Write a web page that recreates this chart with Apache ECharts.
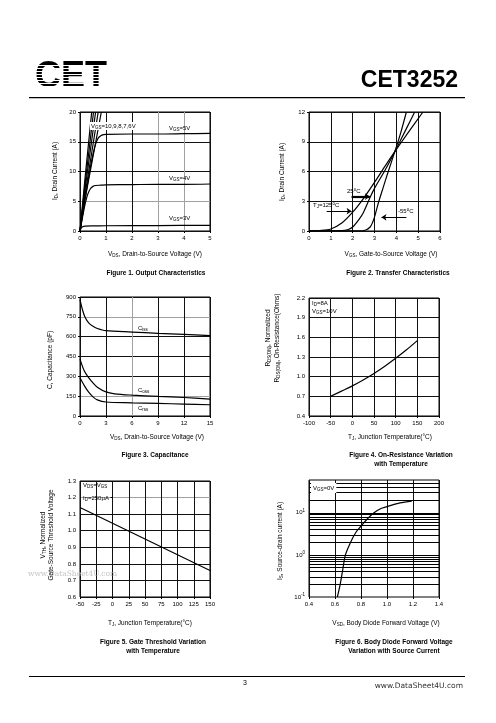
<!DOCTYPE html>
<html><head><meta charset="utf-8">
<script src="https://cdn.jsdelivr.net/npm/echarts@6/dist/echarts.min.js"></script>
<style>html,body{margin:0;padding:0;background:#fff}#c{width:496px;height:723px}</style>
</head><body><div id="c"></div>
<script>
// ---------- Figure 1: Output characteristics (VDS V, ID A) ----------
const fig1Vgs10 = [[0,0],[0.2,9.2],[0.45,20]];
const fig1Vgs9  = [[0,0],[0.2,8.1],[0.52,20]];
const fig1Vgs8  = [[0,0],[0.2,7.2],[0.6,20]];
const fig1Vgs7  = [[0,0],[0.2,6.3],[0.7,20]];
const fig1Vgs6  = [[0,0],[0.2,5.5],[0.82,20]];
const fig1Vgs5  = [[0,0],[0.1,2.8],[0.2,5.5],[0.3,8.2],[0.4,10.7],[0.5,12.9],[0.6,14.6],[0.7,15.6],[0.8,16.0],[0.9,16.2],[1.0,16.25],[2,16.3],[3,16.3],[4,16.35],[5,16.4]];
const fig1Vgs4  = [[0,0],[0.1,2.4],[0.2,4.6],[0.3,6.2],[0.4,7.1],[0.5,7.5],[0.6,7.65],[0.8,7.7],[1,7.75],[2,7.8],[3,7.85],[4,7.85],[5,7.9]];
const fig1Vgs3  = [[0,0],[0.05,0.5],[0.1,0.72],[0.2,0.83],[0.5,0.87],[1,0.88],[3,0.92],[5,0.95]];

// ---------- Figure 2: Transfer characteristics (VGS V, ID A) ----------
const fig2T125 = [[0,0.02],[0.5,0.05],[1,0.2],[1.5,0.8],[2,1.9],[2.5,3.3],[3,4.9],[3.5,6.6],[3.93,8.0],[4.5,9.8],[5.22,12]];
const fig2T25  = [[0,0],[1.5,0.03],[1.8,0.15],[2.0,0.4],[2.3,1.2],[2.5,1.9],[2.8,3.4],[3.0,4.3],[3.5,6.2],[3.93,8.0],[4.5,10.5],[4.84,12]];
const fig2Tm55 = [[0,0],[2.3,0.01],[2.6,0.1],[2.8,0.4],[2.9,0.8],[3.0,1.4],[3.1,2.2],[3.2,3.0],[3.4,4.4],[3.6,5.8],[3.93,8.0],[4.2,9.9],[4.46,12]];
const fig2Arrows = [[[0.81,2.0],[1.95,2.0]],[[1.95,3.47],[2.79,3.47]],[[4.46,1.38],[3.32,1.38]]];

// ---------- Figure 3: Capacitance (VDS V, pF) ----------
const fig3Ciss = [[0,880],[0.3,800],[0.6,745],[1,705],[1.5,678],[2,662],[3,645],[6,635],[9,625],[12,617],[15,608]];
const fig3Coss = [[0,430],[0.5,340],[1,290],[1.5,250],[2,218],[3,182],[4,168],[6,158],[9,148],[12,140],[15,128]];
const fig3Crss = [[0,290],[0.5,230],[1,180],[1.5,145],[2,122],[3,106],[6,100],[9,95],[12,90],[15,85]];

// ---------- Figure 4: On-resistance vs temperature ----------
const fig4Temp = [-50,-25,0,25,50,75,100,125,150];
const fig4Rds  = [0.70,0.78,0.86,0.95,1.05,1.16,1.28,1.41,1.55];

// ---------- Figure 5: Gate threshold vs temperature ----------
const fig5Temp = [-50,0,50,100,150];
const fig5Vth  = [1.14,1.045,0.95,0.855,0.76];

// ---------- Figure 6: Body diode forward voltage ----------
const fig6Vsd = [0.618,0.64,0.66,0.68,0.72,0.76,0.8,0.85,0.9,0.95,1.0,1.1,1.19];
const fig6Is  = [0.1,0.2,0.45,1.0,2.0,3.4,4.8,7.2,10,12.5,14,17.2,19];
const fig6LogGrid = [0.2,0.3,0.4,0.5,0.6,0.7,0.8,0.9,1,2,3,4,5,6,7,8,9,10,20,30,40,50];

const FF = 'Liberation Sans, Arial, sans-serif';
const K = '#111', G = '#a0a0a0';

const chart = echarts.init(document.getElementById('c'), null, {renderer:'canvas', width:496, height:723});

const grids = [
  {left:80, top:112, width:130, height:119},
  {left:309, top:112, width:131, height:119},
  {left:80, top:297, width:130, height:119},
  {left:309, top:298, width:130, height:118},
  {left:80, top:481, width:130, height:116},
  {left:309, top:480, width:130, height:117}
].map(g => Object.assign({show:true, borderColor:'#000', borderWidth:1, backgroundColor:'transparent', containLabel:false, outerBoundsMode:'none'}, g));

function ax(gi, min, max, interval, colors, dec) {
  const a = {type:'value', gridIndex:gi, min, max, interval,
    axisLine:{show:false},
    axisTick:{show:true, length:2, lineStyle:{color:'#000'}},
    axisLabel:{fontSize:6, color:'#000', fontFamily:FF, margin:4, showMinLabel:true, showMaxLabel:true, hideOverlap:false},
    splitLine:{show:true, lineStyle:{color:colors, width:1}}};
  if (dec != null) a.axisLabel.formatter = v => v.toFixed(dec);
  return a;
}

const xAxes = [
  ax(0,0,5,1,[K,K,K,G,G,K]),
  ax(1,0,6,1,[K]),
  ax(2,0,15,3,[K,K,G,K,K,K]),
  ax(3,-100,200,50,[K]),
  ax(4,-50,150,25,[K]),
  ax(5,0.4,1.4,0.2,[K],1)
];
const yAxis6 = {type:'log', logBase:10, gridIndex:5, min:0.1, max:60, interval:1,
  axisLine:{show:false}, axisTick:{show:false},
  splitLine:{show:false},
  axisLabel:{fontSize:6, color:'#000', fontFamily:FF, margin:4, lineHeight:10,
    formatter: v => { const l = Math.log10(v), e = Math.round(l); return Math.abs(l-e) < 1e-6 ? '10{u|' + e + '}' : ''; },
    rich:{u:{fontSize:4.5, color:'#000', fontFamily:FF, verticalAlign:'top', lineHeight:5}}}};
const yAxes = [
  ax(0,0,20,5,[K,G,K,K,K]),
  ax(1,0,12,3,[K]),
  ax(2,0,900,150,[K,G,K,K,K,G,K]),
  ax(3,0.4,2.2,0.3,[K],1),
  ax(4,0.6,1.3,0.1,[K,K,K,K,K,K,G,K],1),
  yAxis6
];

function ln(gi, data, extra) {
  return Object.assign({type:'line', xAxisIndex:gi, yAxisIndex:gi, data, symbol:'none', showSymbol:false,
    smooth:0.3, z:3, silent:true, clip:true, lineStyle:{color:'#000', width:1.2}}, extra||{});
}
const zip = (a,b) => a.map((v,i) => [v,b[i]]);

const series = [
  ln(0,fig1Vgs10,{smooth:false}), ln(0,fig1Vgs9,{smooth:false}), ln(0,fig1Vgs8,{smooth:false}),
  ln(0,fig1Vgs7,{smooth:false}), ln(0,fig1Vgs6,{smooth:false}),
  ln(0,fig1Vgs5), ln(0,fig1Vgs4), ln(0,fig1Vgs3),
  ln(1,fig2T125), ln(1,fig2T25), ln(1,fig2Tm55),
  ln(1,[],{markLine:{silent:true, symbol:['none','arrow'], symbolSize:5, label:{show:false},
    lineStyle:{color:'#000', width:1, type:'solid'},
    data: fig2Arrows.map((a,i) => [{coord:a[0], lineStyle:{width: i===1?2.2:1, color:'#000', type:'solid'}}, {coord:a[1]}])}}),
  ln(2,fig3Ciss), ln(2,fig3Coss), ln(2,fig3Crss),
  ln(3,zip(fig4Temp,fig4Rds)),
  ln(4,zip(fig5Temp,fig5Vth),{smooth:false}),
  ln(5,[],{z:1, markLine:{silent:true, symbol:'none', label:{show:false}, lineStyle:{color:'#000', width:1, type:'solid'},
    data: fig6LogGrid.map(v => ({yAxis:v}))}}),
  ln(5,zip(fig6Vsd,fig6Is))
];

const RICH = {
  s:{fontSize:4.5, fontFamily:FF, fill:'#000', verticalAlign:'bottom', lineHeight:5},
  u:{fontSize:4.5, fontFamily:FF, fill:'#000', verticalAlign:'top', lineHeight:5}
};
function txt(x, y, text, o) {
  o = o || {};
  const st = {text, fill:o.color||'#000', fontSize:o.size||6, fontFamily:o.ff||FF,
    fontWeight:o.bold?'bold':'normal', align:o.align||'left', verticalAlign:o.va||'middle',
    lineHeight:o.lh||8, rich:RICH};
  if (o.bg) { st.backgroundColor = o.bg; st.padding = o.pad || [0,1]; }
  return {type:'text', x, y, z:100, rotation:o.rot||0, silent:true, style:st};
}
const R = Math.PI/2;
const graphics = [
  // header
  txt(35,77,'CET',{size:36, bold:true, lh:36}),
  txt(458,81,'CET3252',{size:23, bold:true, align:'right', lh:26}),
  {type:'rect', z:99, silent:true, shape:{x:29,y:97,width:436,height:1.2}, style:{fill:'#000'}},
  // footer
  {type:'rect', z:99, silent:true, shape:{x:29,y:676,width:436,height:1}, style:{fill:'#000'}},
  txt(243,683,'3',{size:7}),
  txt(463,686,'www.DataSheet4U.com',{size:7.5, align:'right', ff:'DejaVu Sans', color:'#333'}),
  txt(28,574,'www.DataSheet4U.com',{size:7.5, ff:'DejaVu Serif', color:'#c4c4c4'}),

  // Figure 1
  txt(55,171,'I{s|D}, Drain Current (A)',{rot:R, align:'center', size:6.5}),
  txt(155,254,'V{s|DS}, Drain-to-Source Voltage (V)',{align:'center', size:6.5}),
  txt(156,273,'Figure 1. Output Characteristics',{align:'center', size:6.5, bold:true}),
  txt(90,126,'V{s|GS}=10,9,8,7,6V',{bg:'#fff', pad:[0,1]}),
  txt(169,128,'V{s|GS}=5V'),
  txt(169,178,'V{s|GS}=4V'),
  txt(169,218,'V{s|GS}=3V'),

  // Figure 2
  txt(282,172,'I{s|D}, Drain Current (A)',{rot:R, align:'center', size:6.5}),
  txt(391,254,'V{s|GS}, Gate-to-Source Voltage (V)',{align:'center', size:6.5}),
  txt(398,273,'Figure 2. Transfer Characteristics',{align:'center', size:6.5, bold:true}),
  txt(347,191,'25{u|o}C'),
  txt(313,205,'T{s|J}=125{u|o}C'),
  txt(398,211,'-55{u|o}C'),

  // Figure 3
  txt(50,360,'C, Capacitance (pF)',{rot:R, align:'center', size:6.5}),
  txt(157,437,'V{s|DS}, Drain-to-Source Voltage (V)',{align:'center', size:6.5}),
  txt(155,455,'Figure 3. Capacitance',{align:'center', size:6.5, bold:true}),
  txt(138,328,'C{s|iss}'),
  txt(138,390,'C{s|oss}'),
  txt(138,408,'C{s|rss}'),

  // Figure 4
  txt(268,338,'R{s|DS(ON)}, Normalized',{rot:R, align:'center', size:6.5}),
  txt(277,338,'R{s|DS(ON)}, On-Resistance(Ohms)',{rot:R, align:'center', size:6.5}),
  txt(390,437,'T{s|J}, Junction Temperature(°C)',{align:'center', size:6.5}),
  txt(401,455,'Figure 4. On-Resistance Variation',{align:'center', size:6.5, bold:true}),
  txt(401,464,'with Temperature',{align:'center', size:6.5, bold:true}),
  txt(312,303,'I{s|D}=8A'),
  txt(312,311,'V{s|GS}=10V'),

  // Figure 5
  txt(43,535,'V{s|TH}, Normalized',{rot:R, align:'center', size:6.5}),
  txt(51,535,'Gate-Source Threshold Voltage',{rot:R, align:'center', size:6.5}),
  txt(150,623,'T{s|J}, Junction Temperature(°C)',{align:'center', size:6.5}),
  txt(153,642,'Figure 5. Gate Threshold Variation',{align:'center', size:6.5, bold:true}),
  txt(153,651,'with Temperature',{align:'center', size:6.5, bold:true}),
  txt(83,485,'V{s|DS}=V{s|GS}'),
  txt(83,498,'I{s|D}=250µA'),

  // Figure 6
  txt(280,541,'I{s|S}, Source-drain current (A)',{rot:R, align:'center', size:6.5}),
  txt(386,623,'V{s|SD}, Body Diode Forward Voltage (V)',{align:'center', size:6.5}),
  txt(394,642,'Figure 6. Body Diode Forward Voltage',{align:'center', size:6.5, bold:true}),
  txt(394,651,'Variation with Source Current',{align:'center', size:6.5, bold:true}),
  txt(311,488,'V{s|GS}=0V',{bg:'#fff', pad:[1,2]})
];
// logo stripes
for (let y = 65; y < 92; y += 3) {
  graphics.push({type:'rect', z:101, silent:true, shape:{x:30,y:y,width:82,height:1}, style:{fill:'#fff'}});
}

chart.setOption({
  animation:false,
  backgroundColor:'#fff',
  grid:grids, xAxis:xAxes, yAxis:yAxes, series,
  graphic:{elements:graphics}
});
</script></body></html>
